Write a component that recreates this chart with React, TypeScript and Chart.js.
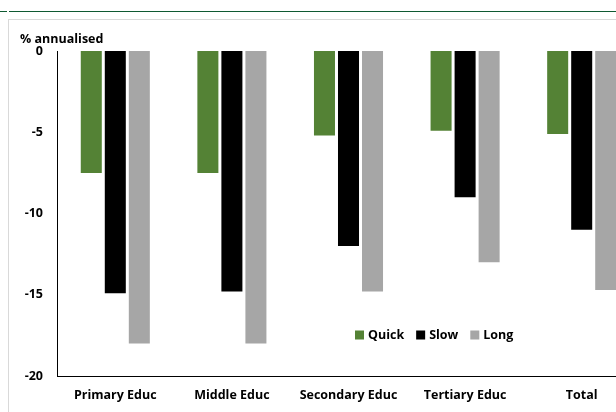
import { useEffect, useRef } from 'react';
import { Chart, registerables } from 'chart.js';

Chart.register(...registerables);

const categories = ['Primary Educ', 'Middle Educ', 'Secondary Educ', 'Tertiary Educ', 'Total'];
const quick = [-7.5, -7.5, -5.2, -4.9, -5.1];
const slow = [-14.9, -14.8, -12.0, -9.0, -11.0];
const long = [-18.0, -18.0, -14.8, -13.0, -14.7];
const seriesNames = ['Quick', 'Slow', 'Long'];
const yMin = -20;
const yMax = 0;
const yStep = 5;
const unitLabel = '% annualised';

const FONT = '"Open Sans", Lato, sans-serif';
const FSIZE = 12.5;
const COLORS = ['#548235', '#000000', '#a6a6a6'];

const overlay = {
  id: 'overlay',
  afterDraw(chart: any) {
    const ctx = chart.ctx as CanvasRenderingContext2D;
    ctx.save();
    ctx.font = `bold ${FSIZE}px ${FONT}`;
    ctx.textBaseline = 'middle';
    ctx.textAlign = 'left';
    ctx.fillStyle = '#000';
    ctx.fillText(unitLabel, 20, 39);
    let x = 355;
    const y = 335;
    chart.data.datasets.forEach((ds: any) => {
      ctx.fillStyle = ds.backgroundColor;
      ctx.fillRect(x, y - 4.5, 9, 9);
      ctx.fillStyle = '#000';
      ctx.fillText(ds.label, x + 13, y);
      x += 13 + ctx.measureText(ds.label).width + 12;
    });
    ctx.restore();
  },
};

export default function App() {
  const ref = useRef<HTMLCanvasElement>(null);
  useEffect(() => {
    document.body.style.margin = '0';
    const canvas = ref.current!;
    const chart = new Chart(canvas, {
      type: 'bar',
      data: {
        labels: categories,
        datasets: [quick, slow, long].map((d, i) => ({
          label: seriesNames[i],
          data: d,
          backgroundColor: COLORS[i],
          borderWidth: 0,
          categoryPercentage: 0.618,
          barPercentage: 0.875,
        })),
      },
      options: {
        responsive: false,
        animation: false,
        events: [],
        layout: { padding: { top: 51, left: 0, right: 0, bottom: 0 } },
        plugins: {
          legend: { display: false },
          tooltip: { enabled: false },
          title: { display: false },
        },
        scales: {
          x: {
            grid: { display: false, drawTicks: false },
            border: { display: true, color: '#000', width: 1 },
            ticks: {
              color: '#000',
              padding: 12,
              maxRotation: 0,
              autoSkip: false,
              font: { family: FONT, size: FSIZE, weight: 'bold' },
            },
            afterFit(scale: any) {
              scale.height = 36;
            },
          },
          y: {
            min: yMin,
            max: yMax,
            grid: { display: false, drawTicks: false },
            border: { display: true, color: '#000', width: 1 },
            ticks: {
              stepSize: yStep,
              color: '#000',
              padding: 14,
              font: { family: FONT, size: FSIZE, weight: 'bold' },
            },
            afterFit(scale: any) {
              scale.width = 57;
            },
          },
        },
      },
      plugins: [overlay],
    });
    return () => chart.destroy();
  }, []);

  return (
    <div style={{ position: 'relative', width: 616, height: 412, overflow: 'hidden', background: '#fff' }}>
      <div style={{ position: 'absolute', left: 0, top: 11, width: 7, height: 1, background: '#0f5a32' }} />
      <div style={{ position: 'absolute', left: 9, top: 11, width: 607, height: 1, background: '#0f5a32' }} />
      <div
        style={{
          position: 'absolute',
          left: 8,
          top: 19,
          width: 700,
          height: 500,
          border: '1px solid #d9d9d9',
        }}
      />
      <canvas ref={ref} width={640} height={412} style={{ position: 'absolute', left: 0, top: 0, width: 640, height: 412 }} />
    </div>
  );
}
